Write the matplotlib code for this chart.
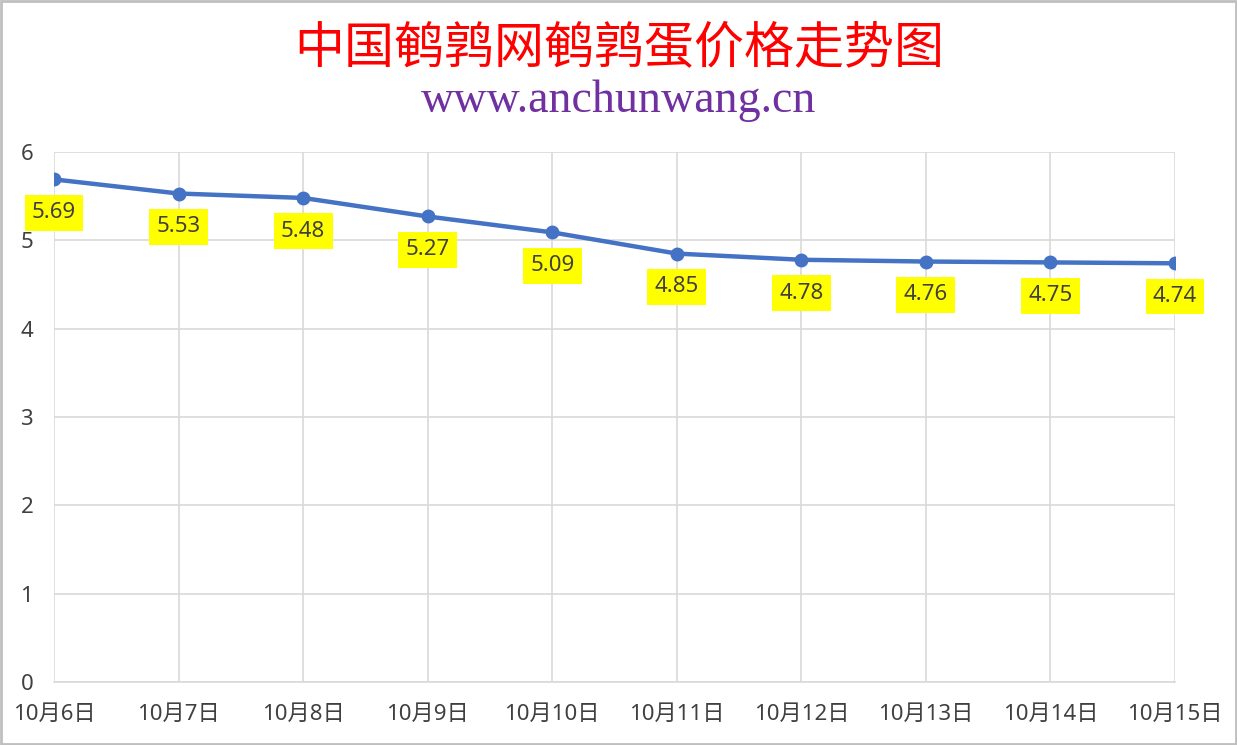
import matplotlib
matplotlib.use("Agg")
import matplotlib.pyplot as plt
from matplotlib.patches import Rectangle

plt.rcParams['font.family'] = ['Noto Sans', 'Noto Sans CJK SC', 'DejaVu Sans']

# 数据
dates = ["10月6日", "10月7日", "10月8日", "10月9日", "10月10日",
         "10月11日", "10月12日", "10月13日", "10月14日", "10月15日"]
prices = [5.69, 5.53, 5.48, 5.27, 5.09, 4.85, 4.78, 4.76, 4.75, 4.74]
yticks = [0, 1, 2, 3, 4, 5, 6]

W, H = 1237, 745
fig = plt.figure(figsize=(W / 100, H / 100), dpi=100)
ax = fig.add_axes([54 / W, 63 / H, (1175 - 54) / W, (682 - 152) / H])

x = list(range(len(dates)))
ax.plot(x, prices, color="#4472C4", lw=3.2, marker="o", ms=9, zorder=3)
for xi, v in zip(x, prices):
    ax.annotate(f"{v:.2f}", (xi, v), xytext=(0, -24), textcoords="offset points",
                ha="center", va="center", fontsize=16, color="#404040",
                bbox=dict(boxstyle="square,pad=0.33", fc="#FFFF00", ec="none"),
                zorder=4)

ax.set_xlim(0, len(dates) - 1)
ax.set_ylim(0, 6)
ax.set_xticks(x)
ax.set_xticklabels(dates)
ax.set_yticks(yticks)
ax.tick_params(length=0, labelsize=16, colors="#404040")
ax.tick_params(axis="x", pad=16)
ax.tick_params(axis="y", pad=15)
ax.grid(True, color="#D9D9D9", lw=1.2)
for s in ["top", "right", "left"]:
    ax.spines[s].set_visible(False)
ax.spines["bottom"].set_color("#D9D9D9")
ax.spines["bottom"].set_linewidth(1.2)

fig.text(619 / W, 1 - 48 / H, "中国鹌鹑网鹌鹑蛋价格走势图", ha="center", va="center",
         fontsize=36, color="#FF0000", family=["Noto Sans CJK SC"])
fig.text(619 / W, 1 - 101 / H, "www.anchunwang.cn", ha="center", va="center",
         fontsize=33, color="#7030A0", family="Liberation Serif")

fig.patches.append(Rectangle((0.001, 0.001), 0.998, 0.998, transform=fig.transFigure,
                             fill=False, ec="#BFBFBF", lw=2))

fig.savefig("out.png", dpi=100)
